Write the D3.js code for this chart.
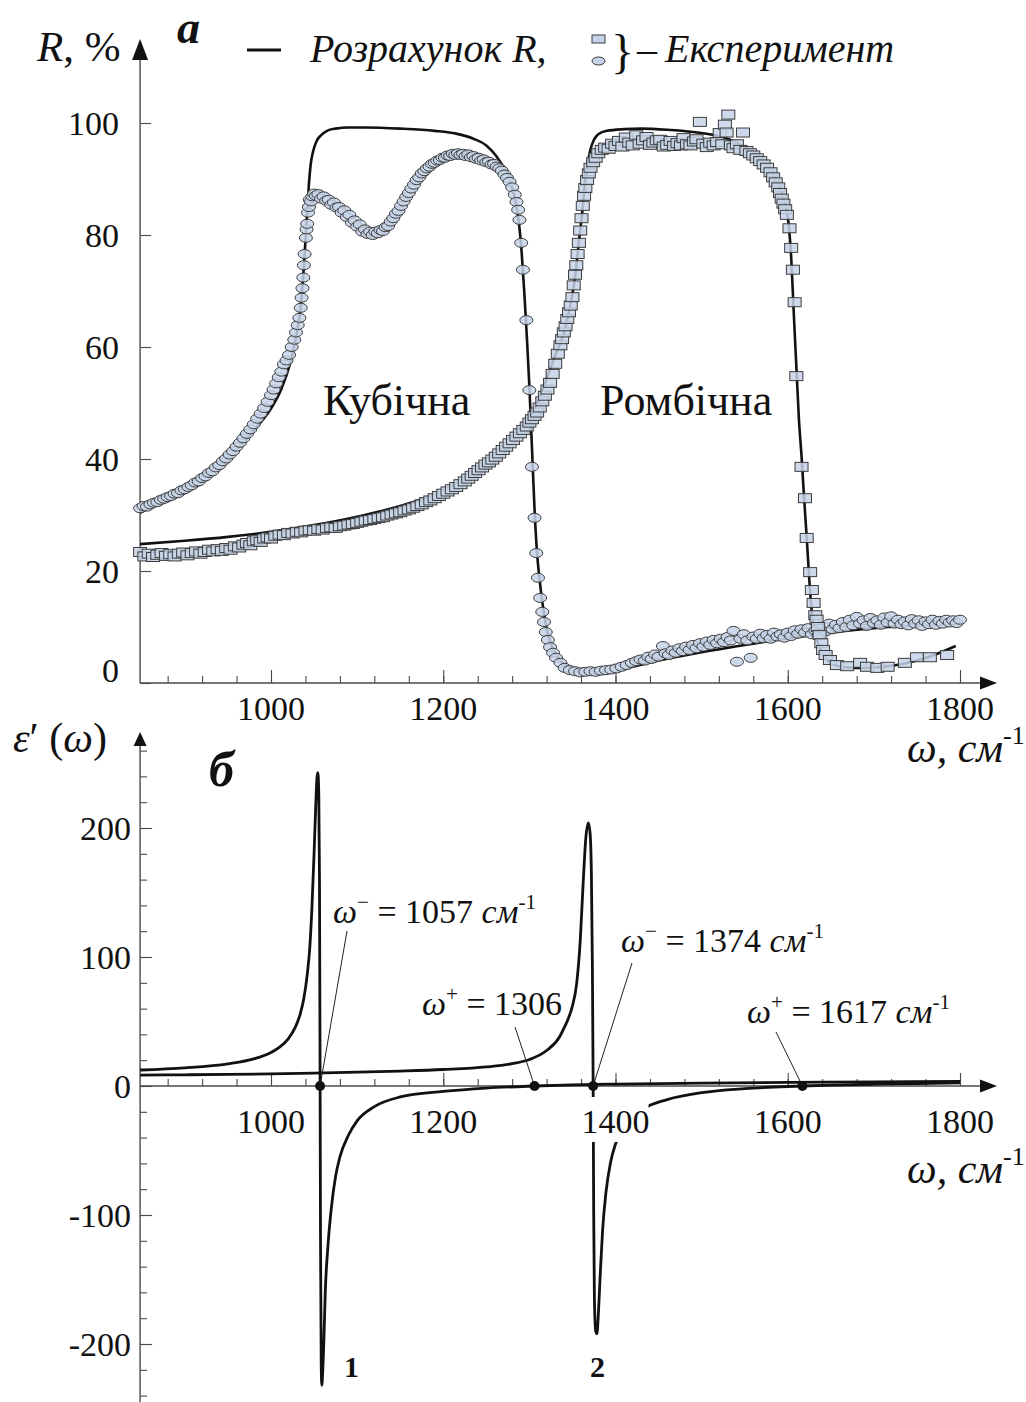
<!DOCTYPE html>
<html><head><meta charset="utf-8">
<script src="https://cdn.jsdelivr.net/npm/d3@7"></script>
<style>
body{margin:0;background:#fff;}
svg, svg text, svg tspan{font-family:"Liberation Serif","Tinos","Times New Roman","DejaVu Serif",serif;}
svg text{fill:#111;}
</style></head><body>
<svg id="c" width="1026" height="1402" font-family="Liberation Serif, Tinos, Times New Roman, DejaVu Serif, serif"></svg>
<script>
// ---------------- DATA ----------------
const xMajorTicks = [1000, 1200, 1400, 1600, 1800];
const xMinorTicks = [880,920,960,1000,1040,1080,1120,1160,1200,1240,1280,1320,1360,1400,1440,1480,1520,1560,1600,1640,1680,1720,1760,1800];
const rTicks = [0, 20, 40, 60, 80, 100];
const epsMajorTicks = [-200, -100, 0, 100, 200];
const epsMinorTicks = [-240,-220,-200,-180,-160,-140,-120,-100,-80,-60,-40,-20,0,20,40,60,80,100,120,140,160,180,200,220,240,260];

// calculated R, cubic phase  [omega, R%]
const calcCubic = [[848,30.4],[880,33.0],[910,35.8],[940,39.0],[965,42.5],[985,46.0],[1000,49.0],[1012,52.5],[1022,57.0],[1030,62.5],[1034,66.5],[1036,70.0],[1038,74.0],[1040,79.0],[1042,84.0],[1044,89.0],[1046,92.5],[1049,95.0],[1053,96.8],[1058,97.8],[1065,98.6],[1075,99.0],[1090,99.2],[1110,99.2],[1150,99.0],[1190,98.6],[1215,98.1],[1235,97.2],[1250,96.0],[1262,94.0],[1272,91.5],[1279,88.8],[1284,86.0],[1288,82.0],[1291,77.0],[1294,70.0],[1297,62.0],[1300,53.0],[1303,42.0],[1306,31.0],[1309,23.0],[1312,18.3],[1315,14.5],[1318,11.5],[1321,9.0],[1325,7.0],[1330,5.3],[1337,3.8],[1347,2.7],[1360,2.1],[1375,1.9],[1400,2.3],[1450,4.0],[1500,5.5],[1550,6.8],[1600,8.0],[1650,9.0],[1700,9.8],[1750,10.3],[1800,10.7]];

// calculated R, orthorhombic phase
const calcRhomb = [[848,24.8],[900,25.4],[950,26.1],[1000,27.0],[1050,28.2],[1100,29.7],[1150,31.6],[1200,34.2],[1240,37.2],[1270,41.0],[1290,44.8],[1305,48.5],[1318,53.5],[1330,58.5],[1340,62.5],[1347,67.0],[1353,72.5],[1358,79.5],[1362,85.0],[1365,90.0],[1368,93.0],[1371,95.3],[1375,97.0],[1380,98.0],[1390,98.6],[1410,98.9],[1430,99.0],[1460,98.8],[1490,98.4],[1515,97.8],[1535,96.9],[1550,95.6],[1563,94.3],[1575,92.5],[1585,90.3],[1592,88.0],[1597,85.5],[1601,82.0],[1604,76.0],[1607,66.0],[1610,56.5],[1613,47.0],[1616,40.5],[1619,33.0],[1622,26.0],[1625,18.5],[1628,12.5],[1631,9.5],[1635,7.2],[1641,5.0],[1650,3.5],[1662,2.9],[1675,2.7],[1690,2.7],[1710,2.9],[1730,3.3],[1750,4.0],[1770,5.0],[1795,6.6]];

// experiment, cubic phase (circles)
const expCubic = [[848,31.2],[852,31.6],[856,31.5],[860,31.9],[864,32.2],[868,32.3],[872,32.7],[876,32.9],[880,33.2],[884,33.4],[888,33.8],[892,33.9],[896,34.4],[900,34.6],[904,35.0],[908,35.3],[912,35.8],[916,36.0],[920,36.6],[924,36.9],[928,37.5],[932,37.8],[936,38.5],[940,38.9],[944,39.6],[948,40.1],[952,40.8],[956,41.4],[960,42.2],[964,42.9],[968,43.7],[972,44.5],[976,45.3],[980,46.2],[984,47.2],[988,48.1],[992,49.1],[996,50.2],[1000,51.4],[1003,52.4],[1006,53.5],[1009,54.6],[1012,55.6],[1015,56.9],[1018,57.6],[1021,58.6],[1024,60.0],[1027,61.3],[1029,62.6],[1031,63.9],[1033,65.2],[1034.5,67.0],[1035.5,68.8],[1036.5,70.5],[1037.5,72.4],[1038.2,74.6],[1039,76.6],[1040.5,79.5],[1041.3,81.0],[1042,82.0],[1043,84.0],[1044,85.0],[1045,86.3],[1046.5,86.0],[1048,86.9],[1050,87.4],[1052,87.0],[1055,87.3],[1058,86.5],[1061,86.9],[1064,86.1],[1067,86.3],[1070,85.4],[1073,85.8],[1076,84.9],[1079,85.0],[1082,84.0],[1085,84.4],[1088,83.2],[1091,83.6],[1094,82.2],[1097,82.6],[1100,81.5],[1103,81.9],[1106,80.6],[1109,81.0],[1112,80.2],[1115,80.6],[1118,80.0],[1121,80.6],[1124,80.3],[1127,80.9],[1130,80.7],[1133,81.4],[1136,81.6],[1139,82.4],[1142,83.0],[1145,83.8],[1148,84.3],[1151,85.2],[1154,86.0],[1157,86.8],[1160,87.5],[1163,88.3],[1166,89.0],[1169,89.8],[1172,90.3],[1175,91.0],[1178,91.4],[1181,91.9],[1184,92.2],[1187,92.7],[1190,92.9],[1193,93.3],[1196,93.4],[1199,93.8],[1202,93.8],[1205,94.2],[1208,94.1],[1211,94.5],[1214,94.3],[1217,94.6],[1220,94.3],[1223,94.5],[1226,94.1],[1229,94.4],[1232,93.9],[1235,94.1],[1238,93.6],[1241,93.8],[1244,93.3],[1247,93.5],[1250,93.0],[1253,93.1],[1256,92.6],[1259,92.7],[1262,92.2],[1265,91.9],[1268,91.5],[1271,90.8],[1274,90.2],[1277,89.5],[1280,88.5],[1283,87.2],[1285,85.9],[1287,84.5],[1288.5,82.7],[1290.5,78.6],[1292.5,73.8],[1296.5,64.8],[1300,52.3],[1303,38.6],[1306,29.5],[1308,23.2],[1310,18.8],[1312.5,15.2],[1315,12.7],[1317,10.9],[1319,9.1],[1321.5,7.7],[1324,6.4],[1327.5,5.4],[1331,4.5],[1336,3.6],[1341,2.7],[1347,2.3],[1353,2.1],[1359,1.9],[1365,2.0],[1371,2.1],[1377,2.0],[1383,2.2],[1389,2.3],[1395,2.4],[1401,2.6],[1407,2.9],[1413,3.2],[1419,3.6],[1424,3.9],[1429,4.2],[1434,4.0],[1438,4.7],[1442,4.3],[1446,5.1],[1450,4.7],[1455,6.6],[1458,5.3],[1462,5.0],[1466,5.8],[1470,5.4],[1474,6.2],[1478,5.7],[1482,6.5],[1486,5.9],[1490,6.8],[1494,6.2],[1498,7.1],[1502,6.5],[1506,7.4],[1510,6.8],[1514,7.7],[1518,7.1],[1522,7.9],[1526,7.3],[1530,8.2],[1534,7.6],[1537,9.3],[1541,3.8],[1545,7.9],[1549,8.7],[1553,7.6],[1557,4.5],[1560,8.3],[1564,7.9],[1568,8.8],[1572,8.0],[1576,8.6],[1580,7.9],[1584,9.0],[1588,8.3],[1592,8.7],[1596,8.1],[1600,9.0],[1604,8.4],[1608,9.4],[1612,8.8],[1616,9.6],[1620,9.0],[1624,9.8],[1628,8.7],[1632,9.4],[1636,8.5],[1640,10.2],[1644,9.2],[1648,10.6],[1652,9.6],[1656,10.4],[1660,9.8],[1664,10.9],[1668,10.0],[1672,11.3],[1676,10.3],[1680,11.8],[1684,10.6],[1688,11.2],[1692,10.2],[1696,11.6],[1700,10.7],[1704,11.2],[1708,10.4],[1712,11.7],[1716,10.8],[1720,11.9],[1724,10.6],[1728,11.3],[1732,10.5],[1736,11.0],[1740,10.3],[1744,11.4],[1748,10.6],[1752,11.2],[1756,10.2],[1760,11.0],[1764,10.5],[1768,11.3],[1772,10.4],[1776,11.1],[1780,10.6],[1784,11.3],[1788,10.8],[1792,11.2],[1796,10.7],[1800,11.3]];

// experiment, orthorhombic phase (squares)
const expRhomb = [[848,23.4],[853,22.6],[858,23.1],[863,22.5],[868,22.9],[873,23.2],[878,22.7],[883,23.0],[888,22.6],[893,23.1],[898,23.3],[903,22.8],[908,23.2],[913,23.5],[918,23.1],[923,23.4],[928,23.8],[933,23.5],[938,23.9],[943,23.6],[948,24.1],[953,23.8],[958,24.4],[963,24.2],[968,24.7],[972,25.0],[976,24.6],[980,25.3],[984,25.5],[988,25.2],[992,25.8],[996,26.0],[1000,25.8],[1005,26.3],[1010,26.5],[1015,26.4],[1020,26.8],[1025,26.7],[1030,27.0],[1035,26.9],[1040,27.2],[1045,27.3],[1050,27.2],[1055,27.5],[1060,27.4],[1065,27.7],[1070,27.8],[1075,27.7],[1080,28.0],[1085,28.1],[1090,28.3],[1095,28.4],[1100,28.6],[1105,28.8],[1110,29.0],[1115,29.1],[1120,29.3],[1125,29.5],[1130,29.6],[1135,29.9],[1140,30.1],[1145,30.3],[1150,30.5],[1155,30.8],[1160,31.0],[1165,31.3],[1170,31.6],[1175,31.9],[1180,32.3],[1185,32.6],[1190,33.0],[1195,33.4],[1200,33.8],[1205,34.2],[1210,34.6],[1215,35.0],[1220,35.5],[1225,36.0],[1229,36.5],[1233,37.0],[1237,37.5],[1241,38.0],[1245,38.5],[1249,39.0],[1253,39.4],[1257,39.9],[1261,40.4],[1265,41.0],[1269,41.6],[1273,42.2],[1277,42.8],[1281,43.4],[1285,44.0],[1289,44.6],[1293,45.2],[1297,45.8],[1300,46.5],[1303,47.1],[1306,47.7],[1309,48.3],[1312,49.2],[1315,50.3],[1318,51.3],[1321,52.4],[1324,53.6],[1327,55.2],[1330,57.0],[1333,58.8],[1336,60.3],[1338,61.4],[1340,62.6],[1342,63.7],[1344,65.0],[1346,66.2],[1348,67.4],[1350,68.9],[1351.5,71.0],[1353,72.9],[1354.5,74.6],[1356,76.6],[1357.5,78.6],[1359,80.8],[1360.5,83.0],[1362,85.2],[1363.5,87.0],[1365,88.4],[1367,89.8],[1369,91.0],[1371,92.0],[1374,93.0],[1377,93.8],[1380,94.6],[1384,95.2],[1388,95.6],[1392,95.4],[1396,96.3],[1400,95.9],[1404,96.8],[1408,95.8],[1412,97.4],[1416,96.5],[1420,96.0],[1424,97.8],[1428,96.3],[1432,96.9],[1436,97.5],[1440,96.1],[1444,96.5],[1448,96.9],[1452,97.0],[1456,95.8],[1460,96.1],[1464,96.8],[1468,95.9],[1472,96.4],[1476,96.0],[1479,97.3],[1483,96.2],[1487,96.0],[1491,96.7],[1494,97.1],[1498,100.2],[1502,96.3],[1506,95.7],[1510,96.5],[1514,96.0],[1518,96.6],[1521,98.2],[1524,96.2],[1527,99.7],[1529,98.3],[1531,101.5],[1534,96.0],[1537,95.5],[1541,96.2],[1545,95.2],[1548,98.3],[1552,95.0],[1556,94.6],[1560,94.2],[1564,93.7],[1568,93.2],[1572,92.6],[1576,92.0],[1580,91.2],[1583,90.3],[1586,89.4],[1589,88.5],[1591,87.5],[1593,86.5],[1595,85.6],[1597,84.6],[1599,83.6],[1602,81.2],[1604,77.7],[1606,73.8],[1608,68.0],[1610,54.8],[1616,38.6],[1620,33.0],[1622,25.9],[1626,19.8],[1628,16.6],[1630,14.3],[1632,12.1],[1633.5,11.3],[1635,10.0],[1637,8.6],[1639,7.1],[1641,5.9],[1644,5.0],[1649,4.1],[1657,3.2],[1669,3.0],[1684,3.6],[1692,2.9],[1704,2.7],[1716,2.9],[1736,3.6],[1750,4.6],[1765,4.6],[1785,5.0]];

// epsilon'(omega), curve 1 (cubic) and curve 2 (orthorhombic)
const eps1 = [[848,12.4],[900,14.1],[950,17.2],[980,21.0],[1000,26.0],[1010,30.1],[1020,36.6],[1028,45.2],[1034,56.0],[1038,67.4],[1042,86.0],[1045,107.0],[1047.5,138.0],[1050,180.0],[1052,218.0],[1053.5,240.0],[1054.5,243.0],[1055.5,225.0],[1056.3,160.0],[1057,5.0],[1057.5,-120.0],[1058.3,-215.0],[1059,-232.0],[1060,-222.0],[1061.5,-195.0],[1063,-160.0],[1066,-125.0],[1070,-95.0],[1075,-70.0],[1080,-55.0],[1090,-38.0],[1100,-27.0],[1120,-16.0],[1150,-8.5],[1200,-4.2],[1250,-1.6],[1306,0],[1350,0.9],[1400,1.5],[1500,2.3],[1600,2.8],[1700,3.2],[1800,3.5]];
const eps2 = [[848,8.4],[900,8.7],[950,9.0],[1000,9.4],[1050,10.0],[1100,10.7],[1150,11.6],[1200,12.8],[1250,14.8],[1280,17.3],[1300,20.5],[1320,27.5],[1335,38.0],[1341,46.0],[1345,52.0],[1350,62.0],[1355,80.0],[1359,112.0],[1362.5,158.0],[1365.5,192.0],[1368.5,204.0],[1370.5,196.0],[1372,165.0],[1373.2,90.0],[1374,5.0],[1374.7,-100.0],[1375.5,-165.0],[1377,-190.0],[1378.5,-192.0],[1380,-178.0],[1382,-150.0],[1385,-112.0],[1389,-82.0],[1394,-60.0],[1400,-45.0],[1410,-32.0],[1420,-24.0],[1440,-15.0],[1460,-10.5],[1500,-5.2],[1550,-2.1],[1600,-0.4],[1617,0],[1650,0.7],[1700,1.4],[1750,1.9],[1800,2.4]];

// characteristic frequencies (marked points on eps axis)
const markFreqs = [1057, 1306, 1374, 1617];
const markLabels = ["1057", "1306", "1374", "1617"];
const markSigns = ["−", "+", "−", "+"];

// ---------------- LAYOUT ----------------
const FONT = '"Liberation Serif", Tinos, "Times New Roman", "DejaVu Serif", serif';
const svg = d3.select("#c");
const xMin = 848;
const x = d3.scaleLinear().domain([1000, 1800]).range([271, 960]);
const yR = d3.scaleLinear().domain([0, 100]).range([683, 123]);
const yE = d3.scaleLinear().domain([0, 200]).range([1086, 828]);
const axX = x(xMin);
const axisCol = "#4a4a4a";
const tickFont = 34;

function txt(sel) { return sel.append("text").attr("font-family", FONT).attr("fill", "#111"); }

function arrow(g, tipX, tipY, dir, len, wid) {
  let p;
  if (dir === "up") p = [[tipX, tipY], [tipX - wid / 2, tipY + len], [tipX + wid / 2, tipY + len]];
  else p = [[tipX, tipY], [tipX - len, tipY - wid / 2], [tipX - len, tipY + wid / 2]];
  g.append("path").attr("d", "M" + p.map(d => d.join(",")).join("L") + "Z").attr("fill", "#111");
}

function rich(x0, y0, size, parts, anchor) {
  const t = txt(svg).attr("x", x0).attr("y", y0).attr("font-size", size);
  if (anchor) t.attr("text-anchor", anchor);
  let shift = 0;
  parts.forEach(p => {
    const ts = t.append("tspan").attr("font-family", FONT).text(p.t);
    if (p.i) ts.attr("font-style", "italic");
    if (p.b) ts.attr("font-weight", "bold");
    if (p.dx) ts.attr("dx", p.dx);
    if (p.sup) {
      ts.attr("font-size", size * 0.62).attr("dy", -size * 0.42 - shift);
      shift = -size * 0.42;
    } else {
      ts.attr("dy", -shift);
      shift = 0;
    }
  });
  return t;
}

function styleAxis(g) {
  g.select(".domain").remove();
  g.selectAll(".tick line").attr("stroke", axisCol).attr("stroke-width", 1.1);
}

// ---------------- PANEL a ----------------
const gA = svg.append("g");
gA.append("line").attr("x1", axX).attr("x2", 985).attr("y1", yR(0)).attr("y2", yR(0)).attr("stroke", axisCol).attr("stroke-width", 1.4);
gA.append("g").attr("transform", `translate(0,${yR(0)})`)
  .call(d3.axisTop(x).tickValues(xMinorTicks).tickSize(7).tickFormat("")).call(styleAxis);
gA.append("g").attr("transform", `translate(0,${yR(0)})`)
  .call(d3.axisTop(x).tickValues(xMajorTicks).tickSize(13).tickFormat("")).call(styleAxis);
arrow(gA, 997, yR(0), "right", 17, 13);
gA.append("line").attr("x1", axX).attr("x2", axX).attr("y1", yR(0)).attr("y2", 50).attr("stroke", axisCol).attr("stroke-width", 1.4);
gA.append("g").attr("transform", `translate(${axX},0)`)
  .call(d3.axisRight(yR).tickValues(rTicks).tickSize(11).tickFormat("")).call(styleAxis);
arrow(gA, axX, 39, "up", 21, 16);
xMajorTicks.forEach(d => {
  txt(gA).attr("x", x(d)).attr("y", 720).attr("text-anchor", "middle").attr("font-size", tickFont).text(d);
});
rTicks.forEach(d => {
  txt(gA).attr("x", 119).attr("y", yR(d) + (d === 0 ? -13 : 0)).attr("dy", "0.35em")
    .attr("text-anchor", "end").attr("font-size", tickFont).text(d);
});

const lineR = d3.line().x(d => x(d[0])).y(d => yR(d[1])).curve(d3.curveMonotoneX);
gA.append("path").datum(calcCubic).attr("d", lineR).attr("fill", "none").attr("stroke", "#111").attr("stroke-width", 2.6);
gA.append("path").datum(calcRhomb).attr("d", lineR).attr("fill", "none").attr("stroke", "#111").attr("stroke-width", 2.6);

const mFill = "#c5d3e8", mStroke = "#3c3c3c";
gA.selectAll("ellipse.c").data(expCubic).enter().append("ellipse")
  .attr("cx", d => x(d[0])).attr("cy", d => yR(d[1])).attr("rx", 6.5).attr("ry", 4.5)
  .attr("fill", mFill).attr("fill-opacity", 0.85).attr("stroke", mStroke).attr("stroke-width", 1);
gA.selectAll("rect.s").data(expRhomb).enter().append("rect")
  .attr("x", d => x(d[0]) - 6.5).attr("y", d => yR(d[1]) - 4.5).attr("width", 13).attr("height", 9)
  .attr("fill", mFill).attr("fill-opacity", 0.85).attr("stroke", mStroke).attr("stroke-width", 1);

txt(svg).attr("x", 323).attr("y", 415).attr("font-size", 44).text("Кубічна");
txt(svg).attr("x", 600).attr("y", 415).attr("font-size", 44).text("Ромбічна");

rich(37, 61, 43, [{t: "R", i: true}, {t: ", %"}]);
txt(svg).attr("x", 177).attr("y", 43).attr("font-size", 46).attr("font-style", "italic").attr("font-weight", "bold").text("а");
svg.append("line").attr("x1", 247).attr("x2", 281).attr("y1", 50).attr("y2", 50).attr("stroke", "#111").attr("stroke-width", 3);
txt(svg).attr("x", 310).attr("y", 62).attr("font-size", 40).attr("font-style", "italic").text("Розрахунок R,");
svg.append("rect").attr("x", 592).attr("y", 35).attr("width", 13).attr("height", 8)
  .attr("fill", mFill).attr("stroke", mStroke).attr("stroke-width", 1);
svg.append("ellipse").attr("cx", 598.5).attr("cy", 61).attr("rx", 6.5).attr("ry", 4)
  .attr("fill", mFill).attr("stroke", mStroke).attr("stroke-width", 1);
txt(svg).attr("x", 611).attr("y", 68).attr("font-size", 48).text("}");
txt(svg).attr("x", 637).attr("y", 62).attr("font-size", 40).text("–");
txt(svg).attr("x", 665).attr("y", 62).attr("font-size", 40).attr("font-style", "italic").text("Експеримент");
rich(907, 762, 42, [{t: "ω, см", i: true}, {t: "-1", sup: true}]);

// ---------------- PANEL б ----------------
const gB = svg.append("g");
gB.append("line").attr("x1", axX).attr("x2", 985).attr("y1", yE(0)).attr("y2", yE(0)).attr("stroke", axisCol).attr("stroke-width", 1.4);
gB.append("g").attr("transform", `translate(0,${yE(0)})`)
  .call(d3.axisTop(x).tickValues(xMinorTicks).tickSize(7).tickFormat("")).call(styleAxis);
gB.append("g").attr("transform", `translate(0,${yE(0)})`)
  .call(d3.axisTop(x).tickValues(xMajorTicks).tickSize(13).tickFormat("")).call(styleAxis);
arrow(gB, 997, yE(0), "right", 17, 13);
gB.append("line").attr("x1", axX).attr("x2", axX).attr("y1", 1402).attr("y2", 740).attr("stroke", axisCol).attr("stroke-width", 1.4);
gB.append("g").attr("transform", `translate(${axX},0)`)
  .call(d3.axisRight(yE).tickValues(epsMinorTicks).tickSize(7).tickFormat("")).call(styleAxis);
gB.append("g").attr("transform", `translate(${axX},0)`)
  .call(d3.axisRight(yE).tickValues(epsMajorTicks).tickSize(12).tickFormat("")).call(styleAxis);
arrow(gB, axX, 732, "up", 14, 13);
epsMajorTicks.forEach(d => {
  txt(gB).attr("x", 131).attr("y", yE(d)).attr("dy", "0.35em")
    .attr("text-anchor", "end").attr("font-size", tickFont).text(d);
});

const lineE = d3.line().x(d => x(d[0])).y(d => yE(d[1])).curve(d3.curveMonotoneX);
gB.append("path").datum(eps1).attr("d", lineE).attr("fill", "none").attr("stroke", "#111").attr("stroke-width", 2.8);
gB.append("path").datum(eps2).attr("d", lineE).attr("fill", "none").attr("stroke", "#111").attr("stroke-width", 2.8);

// x tick labels with white boxes (they hide the curves behind them, as in the original)
xMajorTicks.forEach(d => {
  gB.append("rect").attr("x", x(d) - 33).attr("y", 1097).attr("width", 66).attr("height", 45).attr("fill", "#fff");
  txt(gB).attr("x", x(d)).attr("y", 1133).attr("text-anchor", "middle").attr("font-size", tickFont).text(d);
});

const annPos = [[333, 923, 347, 931], [422, 1015, 515, 1027], [621, 952, 632, 963], [747, 1023, 776, 1032]];
const annUnits = [true, false, true, true];
markFreqs.forEach((f, i) => {
  const a = annPos[i];
  gB.append("line").attr("x1", a[2]).attr("y1", a[3]).attr("x2", x(f)).attr("y2", yE(0))
    .attr("stroke", "#222").attr("stroke-width", 1);
  const parts = [{t: "ω", i: true}, {t: markSigns[i], sup: true}, {t: " = " + markLabels[i] + (annUnits[i] ? " " : "")}];
  if (annUnits[i]) { parts.push({t: "см", i: true}); parts.push({t: "-1", sup: true}); }
  rich(a[0], a[1], 34, parts);
});
gB.selectAll("circle.m").data(markFreqs).enter().append("circle")
  .attr("cx", d => x(d)).attr("cy", yE(0)).attr("r", 5).attr("fill", "#111");

rich(13, 752, 42, [{t: "ε", i: true}, {t: "′"}, {t: " ("}, {t: "ω", i: true}, {t: ")"}]);
txt(svg).attr("x", 209).attr("y", 786).attr("font-size", 50).attr("font-style", "italic").attr("font-weight", "bold").text("б");
rich(907, 1183, 42, [{t: "ω, см", i: true}, {t: "-1", sup: true}]);
txt(svg).attr("x", 344).attr("y", 1377).attr("font-size", 30).attr("font-weight", "bold").text("1");
txt(svg).attr("x", 590).attr("y", 1377).attr("font-size", 30).attr("font-weight", "bold").text("2");
</script>
</body></html>
